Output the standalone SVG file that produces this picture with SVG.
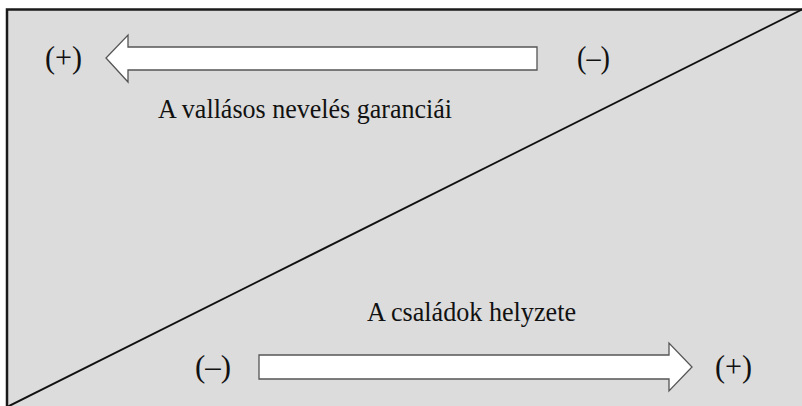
<svg xmlns="http://www.w3.org/2000/svg" width="802" height="406" viewBox="0 0 802 406">
<style>
text{font-family:"Liberation Serif","Times New Roman",serif;font-size:27px;fill:#111}
.sign{font-size:32px}
.arrow{fill:#fff;stroke:#555;stroke-width:1.3}
</style>
<rect x="0" y="0" width="802" height="406" fill="#fff"/>
<g id="frame">
<rect x="7" y="9.5" width="810" height="410" fill="#dcdcdc" stroke="#1a1a1a" stroke-width="2.5"/>
</g>
<g id="connectors">
<line x1="803" y1="9" x2="5" y2="408" stroke="#111" stroke-width="2"/>
</g>
<g id="top-arrow">
<polygon class="arrow" points="537,47 537,70 128,70 128,82 106,58 128,35 128,47"/>
<text class="sign" x="45" y="67.5" textLength="37" lengthAdjust="spacingAndGlyphs">(+)</text>
<text class="sign" x="577" y="67.5" textLength="33" lengthAdjust="spacingAndGlyphs">(–)</text>
<text x="158" y="118" textLength="294" lengthAdjust="spacingAndGlyphs">A vallásos nevelés garanciái</text>
</g>
<g id="bottom-arrow">
<polygon class="arrow" points="259,355 669,355 669,343 692,367 669,391 669,379 259,379"/>
<text class="sign" x="195" y="377" textLength="36" lengthAdjust="spacingAndGlyphs">(–)</text>
<text class="sign" x="715" y="377" textLength="37" lengthAdjust="spacingAndGlyphs">(+)</text>
<text x="367" y="321" textLength="209" lengthAdjust="spacingAndGlyphs">A családok helyzete</text>
</g>
</svg>
